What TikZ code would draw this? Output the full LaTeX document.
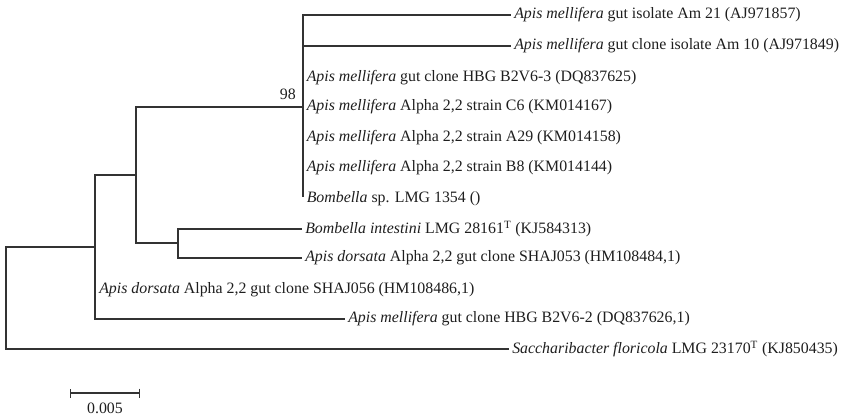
\documentclass[tikz,border=0pt]{standalone}
\usepackage{fontspec}
\setmainfont{Liberation Serif}
\usetikzlibrary{arrows.meta}

\begin{document}
\begin{tikzpicture}[x=0.75pt,y=0.75pt,yscale=-1,xscale=1,
  branch/.style={draw={rgb, 255:red, 51; green, 51; blue, 51 }, line width=1pt},
  leaf/.style={anchor=west, inner sep=2.25pt, font=\fontsize{11.9}{14}\selectfont, text={rgb, 255:red, 30; green, 30; blue, 30 }}]
\useasboundingbox (0,0) rectangle (848,419);
% internal nodes
\coordinate (root) at (6,298);
\coordinate (nA) at (95,247);
\coordinate (nB) at (136,175);
\coordinate (nC) at (303,107);
\coordinate (nCend) at (303,197);
\coordinate (nD) at (178,243);
% leaves
\node [leaf] (am21) at (511,15) {\textit{Apis mellifera} gut isolate Am 21 (AJ971857)};
\node [leaf] (am10) at (511,46) {\textit{Apis mellifera} gut clone isolate Am 10 (AJ971849)};
\node [leaf] (hbg3) at (303.5,77.7) {\textit{Apis mellifera} gut clone HBG B2V6-3 (DQ837625)};
\node [leaf] (c6) at (303.5,107) {\textit{Apis mellifera} Alpha 2,2 strain C6 (KM014167)};
\node [leaf] (a29) at (303.5,137.5) {\textit{Apis mellifera} Alpha 2,2 strain A29 (KM014158)};
\node [leaf] (b8) at (303.5,168) {\textit{Apis mellifera} Alpha 2,2 strain B8 (KM014144)};
\node [leaf] (bsp) at (303.5,198.5) {\textit{Bombella} sp. LMG 1354 ()};
\node [leaf] (bint) at (302,229) {\textit{Bombella intestini} LMG 28161\textsuperscript{T} (KJ584313)};
\node [leaf] (sh53) at (302,258) {\textit{Apis dorsata} Alpha 2,2 gut clone SHAJ053 (HM108484,1)};
\node [leaf] (sh56) at (96,289.5) {\textit{Apis dorsata} Alpha 2,2 gut clone SHAJ056 (HM108486,1)};
\node [leaf] (hbg2) at (345,319) {\textit{Apis mellifera} gut clone HBG B2V6-2 (DQ837626,1)};
\node [leaf] (sac) at (509,349) {\textit{Saccharibacter floricola} LMG 23170\textsuperscript{T} (KJ850435)};
\node [leaf, anchor=south east] (boot) at (299,103) {98};
% branches
\draw [branch] (root) |- (nA);
\draw [branch] (root) |- (sac.west);
\draw [branch] (nA) |- (nB);
\draw [branch] (nA) |- (hbg2.west);
\draw [branch] (nB) |- (nC);
\draw [branch] (nB) |- (nD);
\draw [branch] (nD) |- (bint.west);
\draw [branch] (nD) |- (sh53.west);
\draw [branch] (nC) |- (am21.west);
\draw [branch] (nC) |- (am10.west);
\draw [branch] (nC) -- (nCend);
% scale bar
\coordinate (sbL) at (70,393);
\coordinate (sbR) at (140,393);
\draw [branch, {Bar[width=6.75pt]}-{Bar[width=6.75pt]}] (sbL) -- (sbR);
\node [leaf, anchor=center] (sbtext) at (105,408) {0.005};
\end{tikzpicture}
\end{document}
